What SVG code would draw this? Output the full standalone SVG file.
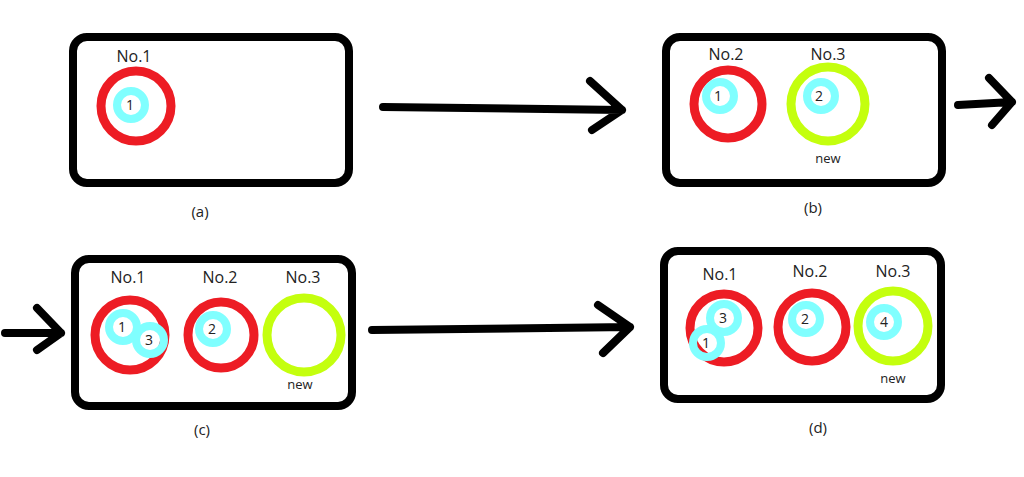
<svg xmlns="http://www.w3.org/2000/svg" width="1024" height="477" viewBox="0 0 1024 477">
<style>
.box{fill:#fff;stroke:#000;stroke-width:8}
.red{fill:none;stroke:#ed1c24;stroke-width:9}
.grn{fill:none;stroke:#c4ff0e;stroke-width:9}
.cy{fill:none;stroke:#80ffff;stroke-width:8}
.t{font-family:"Open Sans","Noto Sans",sans-serif;fill:#222;text-anchor:middle}
.h{font-size:16px}
.n{font-size:14px}
.s{font-size:13px}
.cap{font-size:15px}
.arr{fill:none;stroke:#000;stroke-width:8;stroke-linecap:round;stroke-linejoin:round}
</style>
<rect width="1024" height="477" fill="#fff"/>
<g id="panel-a">
<rect class="box" x="73" y="37" width="276" height="146" rx="14"/>
<text class="t h" x="134" y="62">No.1</text>
<circle class="red" cx="136" cy="106" r="35"/>
<circle class="cy" cx="131" cy="105" r="14"/>
<text class="t n" x="130" y="110">1</text>
<text class="t cap" x="200" y="217">(a)</text>
</g>
<g id="panel-b">
<rect class="box" x="666" y="37" width="276" height="146" rx="14"/>
<text class="t h" x="726" y="60">No.2</text>
<text class="t h" x="828" y="60">No.3</text>
<circle class="red" cx="728" cy="104" r="34"/>
<circle class="cy" cx="720" cy="96" r="14"/>
<text class="t n" x="718" y="101">1</text>
<circle class="grn" cx="828" cy="104" r="37"/>
<circle class="cy" cx="821" cy="96" r="14"/>
<text class="t n" x="819" y="101">2</text>
<text class="t s" x="828" y="163">new</text>
<text class="t cap" x="813" y="213">(b)</text>
</g>
<g id="panel-c">
<rect class="box" x="75" y="259" width="277" height="147" rx="14"/>
<text class="t h" x="128" y="283">No.1</text>
<text class="t h" x="220" y="283">No.2</text>
<text class="t h" x="303" y="283">No.3</text>
<circle class="red" cx="130" cy="335" r="35"/>
<circle class="cy" cx="123" cy="327" r="14"/>
<text class="t n" x="122" y="332">1</text>
<circle class="cy" cx="150" cy="340" r="14"/>
<text class="t n" x="149" y="345">3</text>
<circle class="red" cx="221" cy="335" r="33"/>
<circle class="cy" cx="213" cy="329" r="14"/>
<text class="t n" x="212" y="334">2</text>
<circle class="grn" cx="304" cy="335" r="37"/>
<text class="t s" x="300" y="389">new</text>
<text class="t cap" x="202" y="435">(c)</text>
</g>
<g id="panel-d">
<rect class="box" x="664" y="251" width="277" height="148" rx="14"/>
<text class="t h" x="720" y="280">No.1</text>
<text class="t h" x="810" y="277">No.2</text>
<text class="t h" x="893" y="277">No.3</text>
<circle class="red" cx="724" cy="328" r="34"/>
<circle class="cy" cx="724" cy="318" r="14"/>
<text class="t n" x="723" y="323">3</text>
<circle class="cy" cx="707" cy="343" r="14"/>
<text class="t n" x="706" y="348">1</text>
<circle class="red" cx="812" cy="327" r="34"/>
<circle class="cy" cx="806" cy="319" r="14"/>
<text class="t n" x="805" y="324">2</text>
<circle class="grn" cx="893" cy="326" r="35"/>
<circle class="cy" cx="884" cy="322" r="14"/>
<text class="t n" x="884" y="327">4</text>
<text class="t s" x="893" y="383">new</text>
<text class="t cap" x="818" y="433">(d)</text>
</g>
<g id="connectors">
<path class="arr" d="M383 107 L622 110 M590 81 L622 110 L592 130"/>
<path class="arr" d="M958 105 L1012 102 M989 78 L1012 102 L992 125"/>
<path class="arr" d="M5 333 L61 333 M37 308 L61 333 L37 350"/>
<path class="arr" d="M372 330 L630 327 M598 305 L630 327 L603 353"/>
</g>
</svg>
